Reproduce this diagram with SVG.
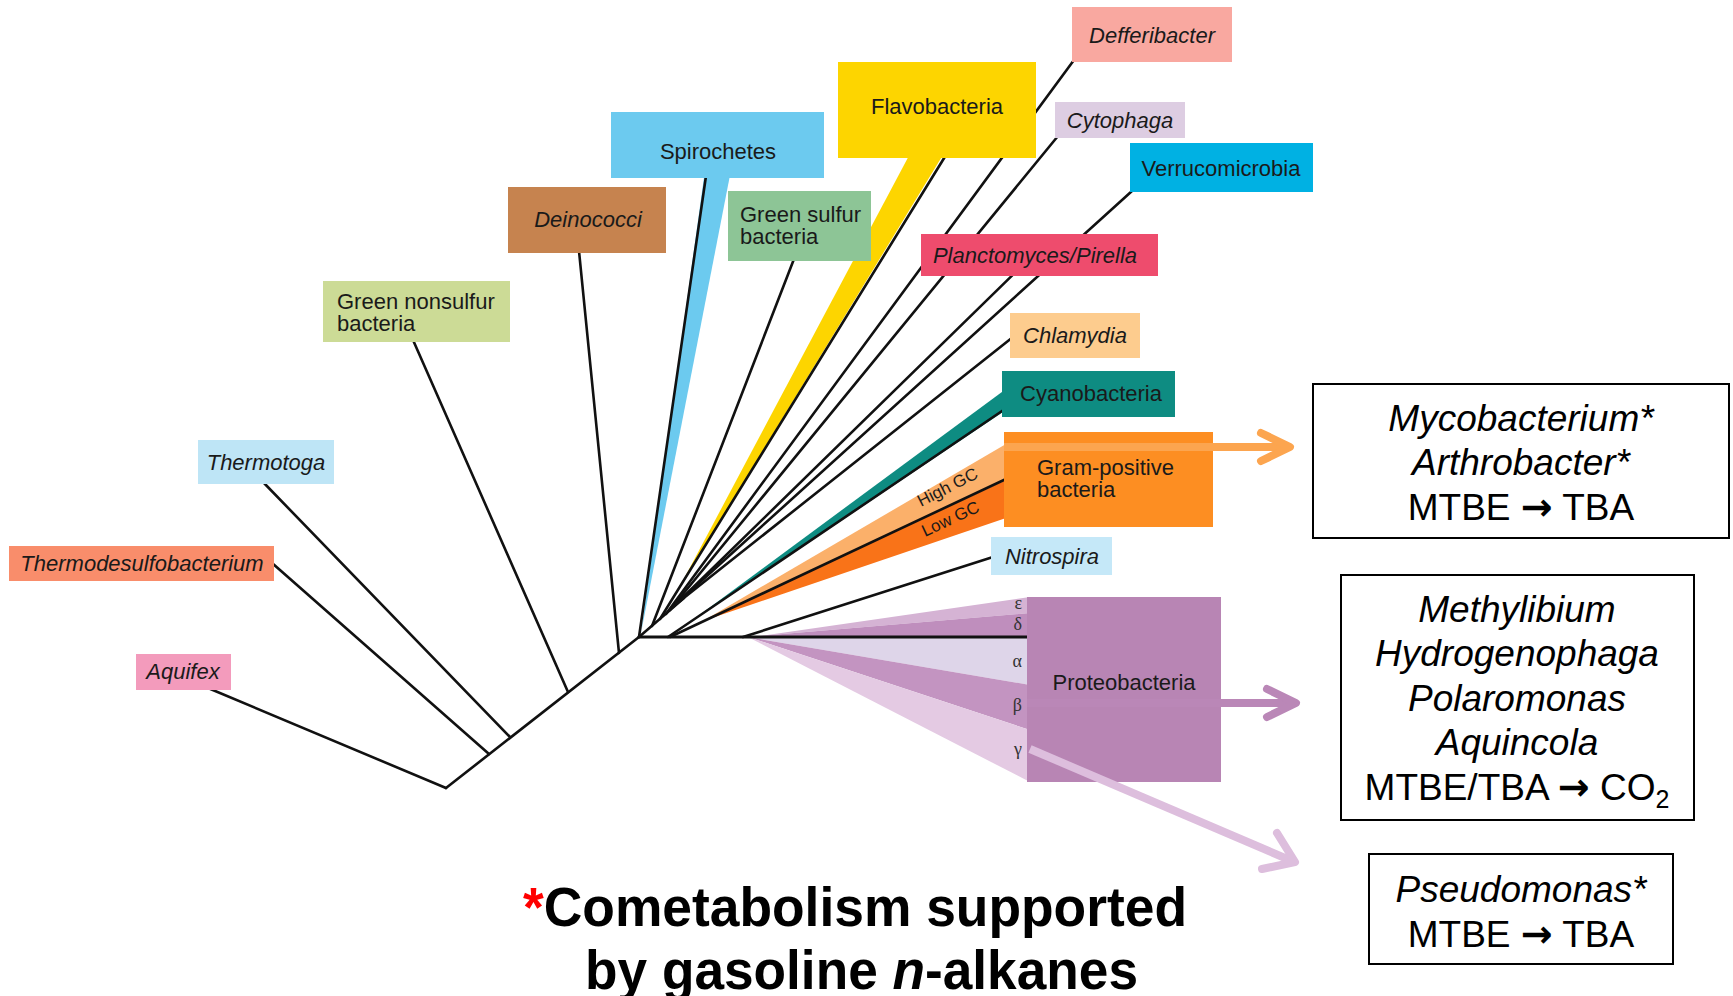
<svg xmlns="http://www.w3.org/2000/svg" width="1733" height="996" viewBox="0 0 1733 996">
<style>
.ln{stroke:#111;stroke-width:2.6;fill:none;stroke-linecap:round}
.lb{font-family:"Liberation Sans",Arial,sans-serif;font-size:22px;fill:#1a1a1a}
.it{font-style:italic}
.c{text-anchor:middle}
.gk{font-family:"Liberation Serif","Times New Roman",serif;font-size:18px;fill:#333;text-anchor:end}
.gc{font-family:"Liberation Sans",Arial,sans-serif;font-size:17px;fill:#1a1a1a}
.bx{fill:#fff;stroke:#000;stroke-width:2}
.bt{font-family:"Liberation Sans",Arial,sans-serif;font-size:37px;fill:#000;text-anchor:middle}
.arw{font-family:"DejaVu Sans",sans-serif;font-weight:bold;font-size:38px}
.ar{fill:none;stroke-width:8;stroke-linecap:round;stroke-linejoin:round}
</style>
<rect width="1733" height="996" fill="#fff"/>

<g id="wedges">
  <polygon points="641,633 705,170 731,170" fill="#6CCAEF"/>
  <polygon points="678,590 912,150 946,150" fill="#FDD500"/>
  <polygon points="690,622 1006,389 1006,410" fill="#0E8C82"/>
  <polygon points="703,621 1006,444 1006,480" fill="#FBB06A"/>
  <polygon points="703,621 1006,480 1006,518" fill="#F97318"/>
  <polygon points="760,636 1030,597 1030,613" fill="#D5B3D4"/>
  <polygon points="748,637 1030,613 1030,637" fill="#BF8EBD"/>
  <polygon points="748,637 1030,637 1030,685" fill="#DED5E9"/>
  <polygon points="748,637 1030,685 1030,730" fill="#C394C1"/>
  <polygon points="748,637 1030,730 1030,782" fill="#E4CAE3"/>
</g>

<g id="connectors">
  <line class="ln" x1="446" y1="788" x2="639" y2="637"/>
  <line class="ln" x1="446" y1="788" x2="208" y2="688"/>
  <line class="ln" x1="489" y1="754" x2="272" y2="563"/>
  <line class="ln" x1="510" y1="737" x2="263" y2="482"/>
  <line class="ln" x1="568" y1="692" x2="413" y2="340"/>
  <line class="ln" x1="619" y1="653" x2="579" y2="251"/>
  <line class="ln" x1="639" y1="637" x2="706" y2="176"/>
  <line class="ln" x1="639" y1="637" x2="684" y2="598"/>
  <line class="ln" x1="652" y1="626" x2="794" y2="259"/>
  <line class="ln" x1="660" y1="619" x2="946" y2="155"/>
  <line class="ln" x1="666" y1="614" x2="1074" y2="60"/>
  <line class="ln" x1="670" y1="610" x2="1058" y2="136"/>
  <line class="ln" x1="673" y1="607" x2="1030" y2="258"/>
  <line class="ln" x1="676" y1="604" x2="1132" y2="191"/>
  <line class="ln" x1="680" y1="601" x2="1013" y2="337"/>
  <line class="ln" x1="639" y1="637" x2="1028" y2="637" style="stroke-width:3"/>
  <line class="ln" x1="668" y1="637" x2="1005" y2="409"/>
  <line class="ln" x1="670" y1="637" x2="1006" y2="479"/>
  <line class="ln" x1="743" y1="637" x2="993" y2="557"/>
</g>

<g id="aquifex"><rect x="136" y="654" width="95" height="36" fill="#F39BBC"/><text class="lb it c" x="183" y="679">Aquifex</text></g>
<g id="thermodesulfobacterium"><rect x="9" y="546" width="265" height="35" fill="#F98D6B"/><text class="lb it c" x="142" y="571">Thermodesulfobacterium</text></g>
<g id="thermotoga"><rect x="198" y="440" width="136" height="44" fill="#BEE5F6"/><text class="lb it c" x="266" y="470">Thermotoga</text></g>
<g id="green-nonsulfur"><rect x="323" y="281" width="187" height="61" fill="#CCDB96"/><text class="lb" x="337" y="309">Green nonsulfur</text><text class="lb" x="337" y="331">bacteria</text></g>
<g id="deinococci"><rect x="508" y="187" width="158" height="66" fill="#C6834F"/><text class="lb it c" x="588" y="227">Deinococci</text></g>
<g id="spirochetes"><rect x="611" y="112" width="213" height="66" fill="#6CCAEF"/><text class="lb c" x="718" y="159">Spirochetes</text></g>
<g id="green-sulfur"><rect x="728" y="191" width="143" height="70" fill="#8DC596"/><text class="lb" x="740" y="222">Green sulfur</text><text class="lb" x="740" y="244">bacteria</text></g>
<g id="flavobacteria"><rect x="838" y="62" width="198" height="96" fill="#FDD500"/><text class="lb c" x="937" y="114">Flavobacteria</text></g>
<g id="defferibacter"><rect x="1072" y="7" width="160" height="55" fill="#F9A8A0"/><text class="lb it c" x="1152" y="43">Defferibacter</text></g>
<g id="cytophaga"><rect x="1055" y="102" width="130" height="36" fill="#DDCDE2"/><text class="lb it c" x="1120" y="128">Cytophaga</text></g>
<g id="verrucomicrobia"><rect x="1130" y="143" width="183" height="49" fill="#00B1E3"/><text class="lb c" x="1221" y="176">Verrucomicrobia</text></g>
<g id="planctomyces"><rect x="921" y="234" width="237" height="42" fill="#EE4C6D"/><text class="lb it c" x="1035" y="263">Planctomyces/Pirella</text></g>
<g id="chlamydia"><rect x="1010" y="313" width="130" height="45" fill="#FDCC8E"/><text class="lb it c" x="1075" y="343">Chlamydia</text></g>
<g id="cyanobacteria"><rect x="1002" y="371" width="173" height="46" fill="#0E8C82"/><text class="lb c" x="1091" y="401">Cyanobacteria</text></g>
<g id="gram-positive"><rect x="1004" y="432" width="209" height="95" fill="#FD8E22"/><text class="lb" x="1037" y="475">Gram-positive</text><text class="lb" x="1037" y="497">bacteria</text></g>
<g id="nitrospira"><rect x="991" y="537" width="121" height="38" fill="#C5E8F8"/><text class="lb it c" x="1052" y="564">Nitrospira</text></g>
<g id="proteobacteria"><rect x="1027" y="597" width="194" height="185" fill="#B885B4"/><text class="lb c" x="1124" y="690">Proteobacteria</text></g>

<g id="gc-labels">
  <text class="gc" transform="translate(921,507) rotate(-27)">High GC</text>
  <text class="gc" transform="translate(925,537) rotate(-25)">Low GC</text>
</g>
<g id="greek">
  <text class="gk" x="1022" y="609">ε</text>
  <text class="gk" x="1022" y="630">δ</text>
  <text class="gk" x="1022" y="667">α</text>
  <text class="gk" x="1022" y="711">β</text>
  <text class="gk" x="1022" y="755">γ</text>
</g>

<g id="arrows">
  <line class="ar" x1="1004" y1="447" x2="1288" y2="447" stroke="#FCA54F" style="stroke-linecap:butt"/>
  <polyline class="ar" points="1261,433 1290,447 1261,461" stroke="#FCA54F"/>
  <line class="ar" x1="1027" y1="703" x2="1294" y2="703" stroke="#BA87B7" style="stroke-linecap:butt"/>
  <polyline class="ar" points="1267,689 1296,703 1267,717" stroke="#BA87B7"/>
  <line class="ar" x1="1030" y1="749" x2="1292" y2="861" stroke="#DDBEDD" style="stroke-linecap:butt"/>
  <polyline class="ar" points="1277,833 1295,862 1262,869" stroke="#DDBEDD"/>
</g>

<g id="box-gram-positive-taxa">
  <rect class="bx" x="1313" y="384" width="416" height="154"/>
  <text class="bt it" x="1521" y="431">Mycobacterium*</text>
  <text class="bt it" x="1521" y="475">Arthrobacter*</text>
  <text class="bt" x="1521" y="520">MTBE <tspan class="arw">→</tspan> TBA</text>
</g>
<g id="box-beta-taxa">
  <rect class="bx" x="1341" y="575" width="353" height="245"/>
  <text class="bt it" x="1517" y="622">Methylibium</text>
  <text class="bt it" x="1517" y="666">Hydrogenophaga</text>
  <text class="bt it" x="1517" y="711">Polaromonas</text>
  <text class="bt it" x="1517" y="755">Aquincola</text>
  <text class="bt" x="1517" y="800">MTBE/TBA <tspan class="arw">→</tspan> CO<tspan font-size="25" dy="8">2</tspan></text>
</g>
<g id="box-gamma-taxa">
  <rect class="bx" x="1369" y="854" width="304" height="110"/>
  <text class="bt it" x="1521" y="902">Pseudomonas*</text>
  <text class="bt" x="1521" y="947">MTBE <tspan class="arw">→</tspan> TBA</text>
</g>

<g id="footnote" font-family="'Liberation Sans',Arial,sans-serif" font-weight="bold" font-size="56" fill="#000">
  <text x="523" y="926" textLength="664" lengthAdjust="spacingAndGlyphs"><tspan fill="#F00">*</tspan>Cometabolism supported</text>
  <text x="585" y="989" textLength="553" lengthAdjust="spacingAndGlyphs">by gasoline <tspan font-style="italic">n</tspan>-alkanes</text>
</g>
</svg>
